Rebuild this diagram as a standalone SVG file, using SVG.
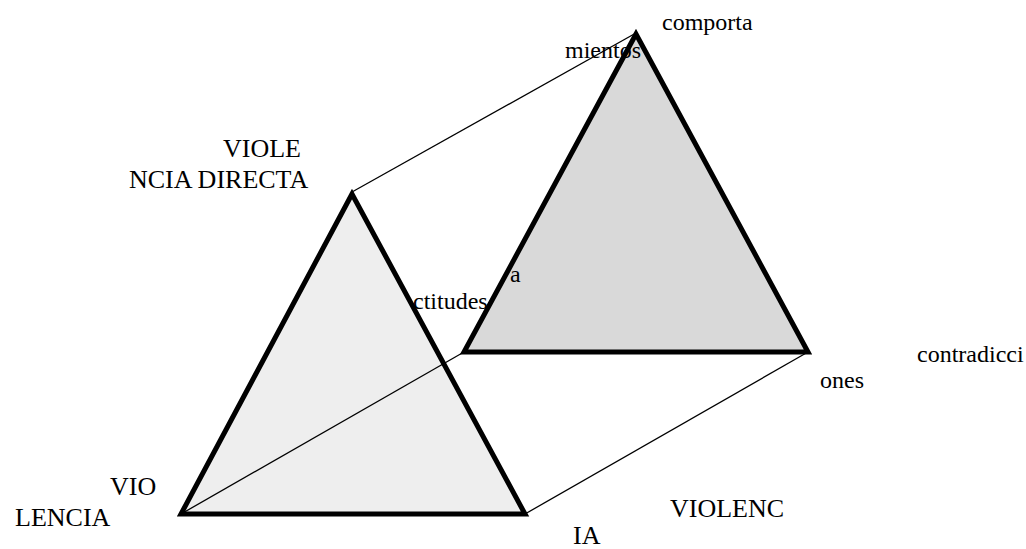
<svg xmlns="http://www.w3.org/2000/svg" width="1026" height="549" viewBox="0 0 1026 549">
<style>
.tri{stroke:#000;stroke-width:5;stroke-linejoin:miter}
.ln{stroke:#000;stroke-width:1.3;fill:none}
.t{font-family:"Liberation Serif","Times New Roman",serif;fill:#000}
.s{font-size:24px}
.b{font-size:26px}
</style>
<rect width="1026" height="549" fill="#fff"/>
<g id="back-triangle">
<polygon class="tri" points="636,34 464,352 808,352" fill="#d9d9d9"/>
</g>
<g id="front-triangle">
<polygon class="tri" points="352,194 181,514 525,514" fill="#eeeeee"/>
</g>
<g id="connectors">
<line class="ln" x1="352" y1="192" x2="636" y2="33"/>
<line class="ln" x1="181" y1="514" x2="464" y2="352"/>
<line class="ln" x1="525" y1="514" x2="808" y2="352"/>
</g>
<g id="labels">
<text class="t s" x="662" y="30">comporta</text>
<text class="t s" x="565" y="58">mientos</text>
<text class="t b" x="223" y="157">VIOLE</text>
<text class="t b" x="129" y="188">NCIA DIRECTA</text>
<text class="t s" x="510" y="282">a</text>
<text class="t s" x="413" y="309">ctitudes</text>
<text class="t s" x="917" y="362">contradicci</text>
<text class="t s" x="820" y="388">ones</text>
<text class="t b" x="110" y="495">VIO</text>
<text class="t b" x="15" y="526">LENCIA</text>
<text class="t b" x="670" y="517">VIOLENC</text>
<text class="t b" x="573" y="544">IA</text>
</g>
</svg>
